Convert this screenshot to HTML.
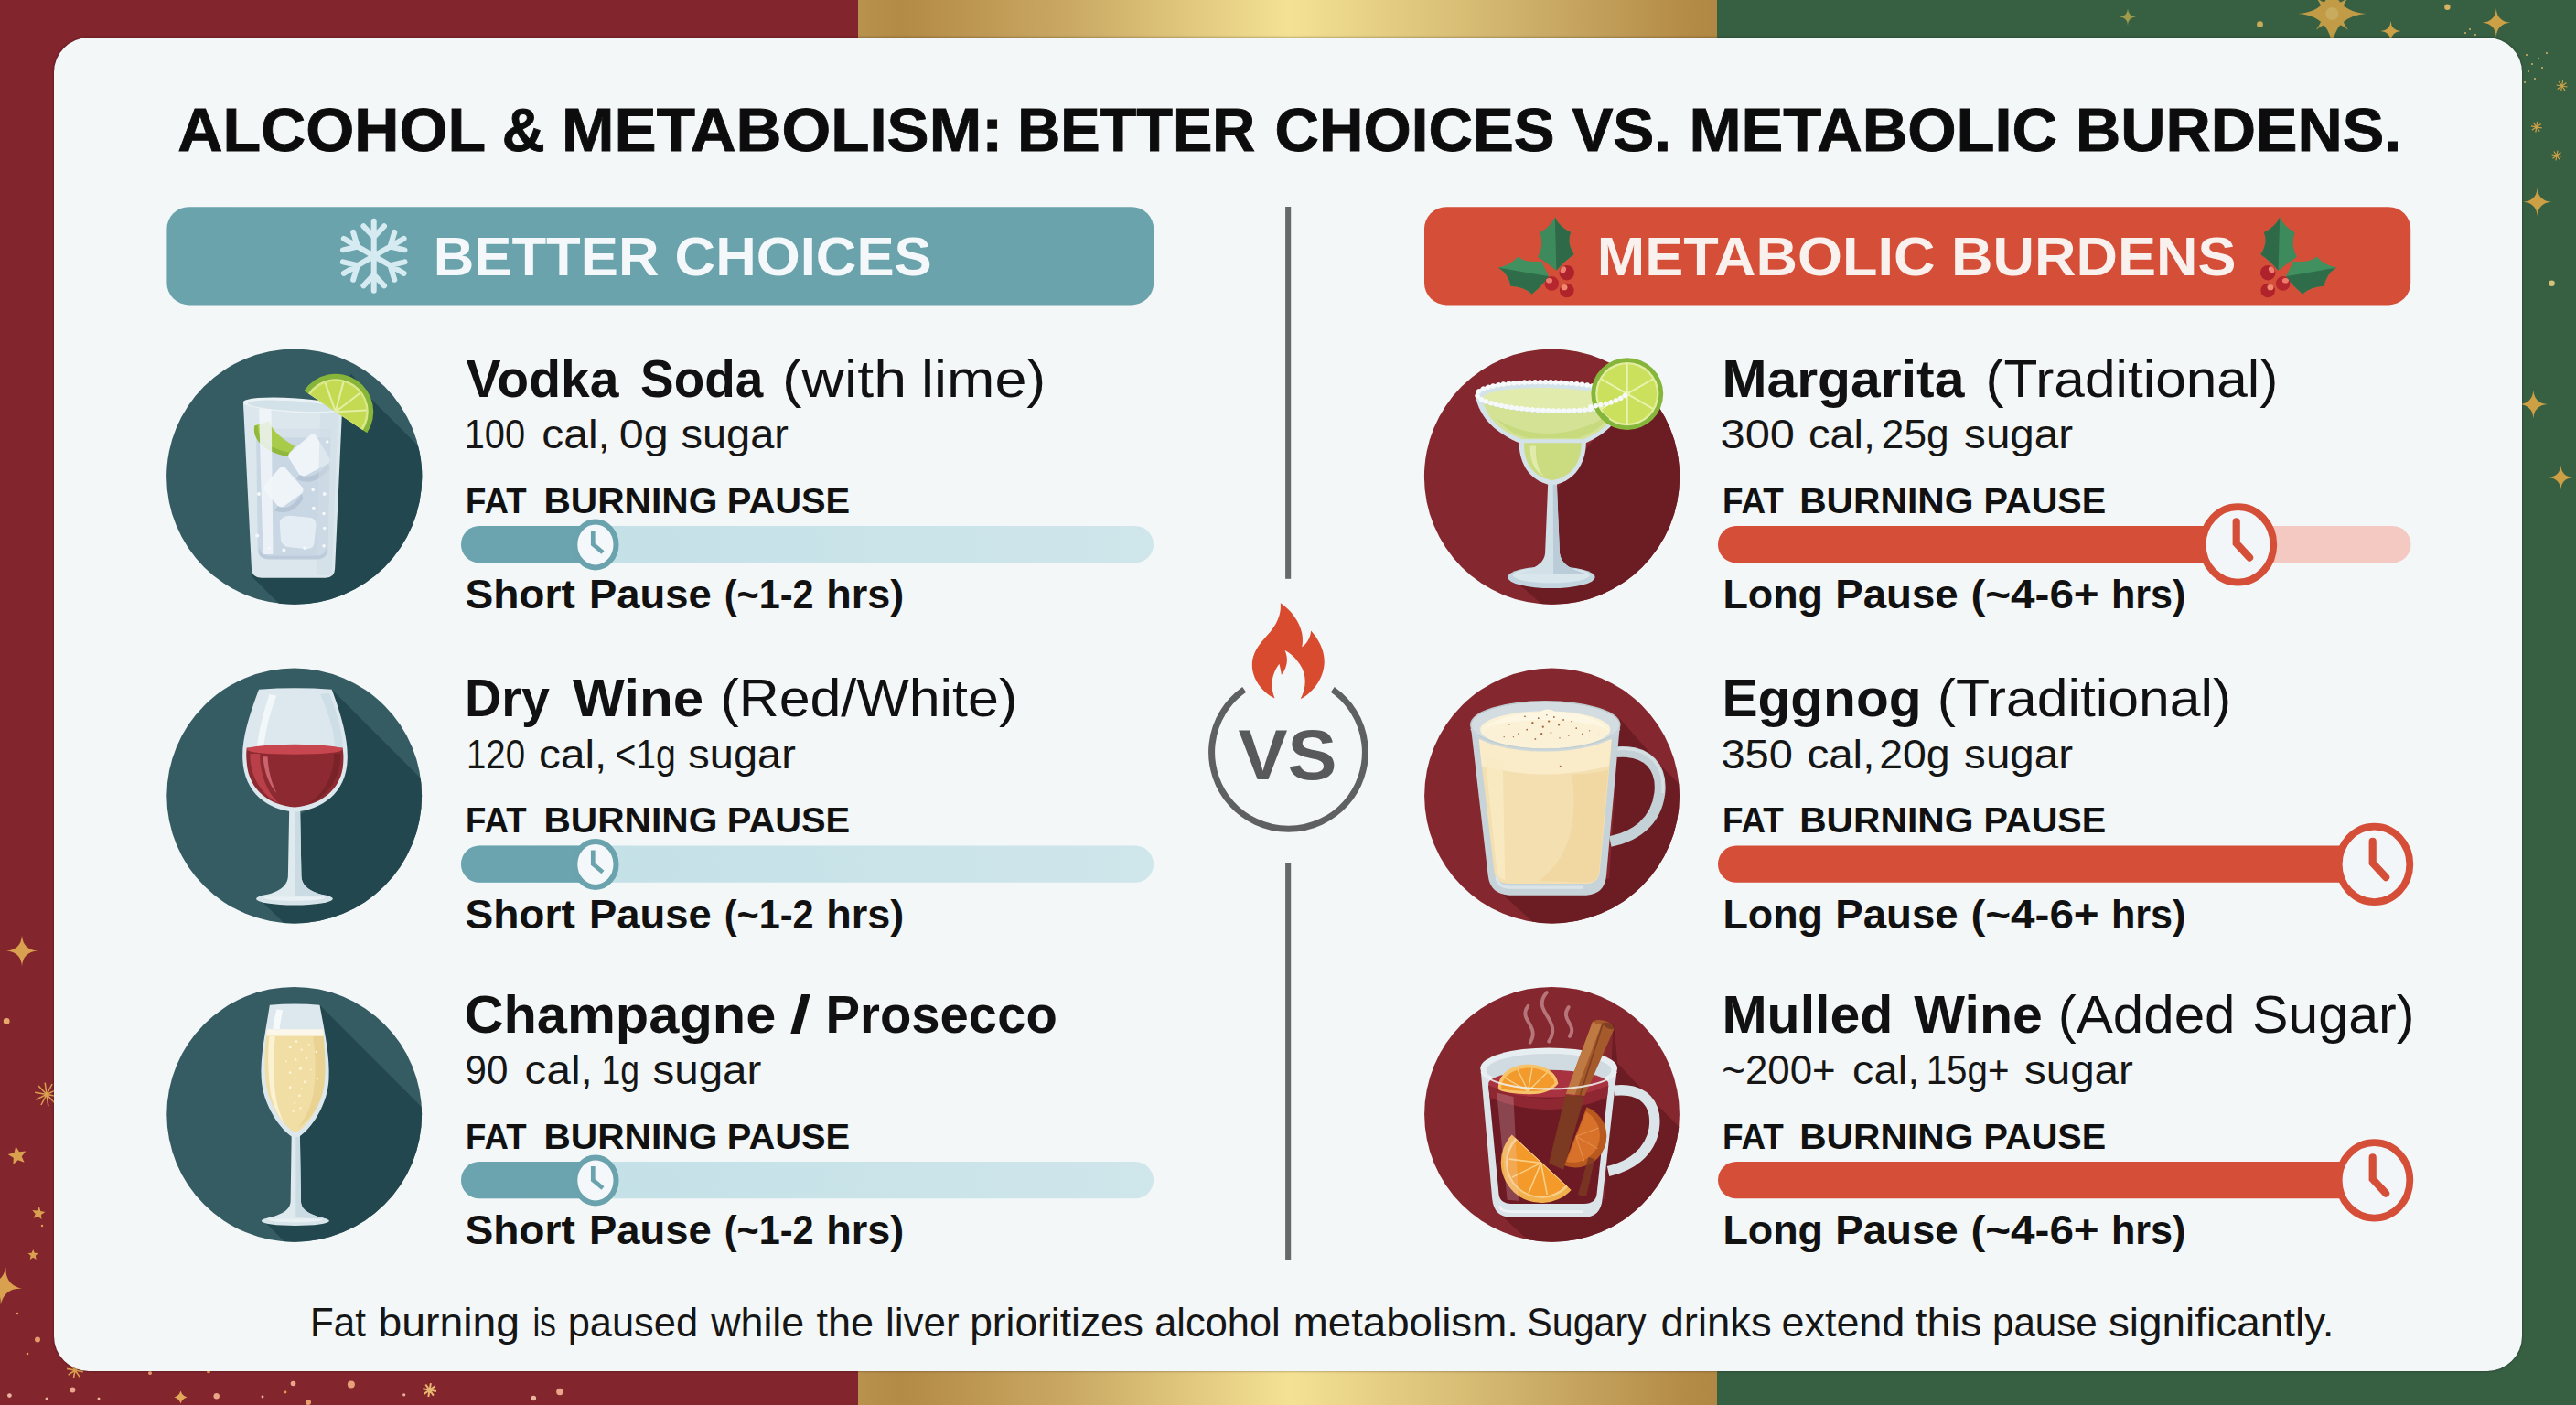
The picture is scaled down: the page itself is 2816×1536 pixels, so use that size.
<!DOCTYPE html>
<html lang="en">
<head>
<meta charset="utf-8">
<title>Alcohol &amp; Metabolism: Better Choices vs. Metabolic Burdens</title>
<style>
html,body{margin:0;padding:0;width:2816px;height:1536px;overflow:hidden;background:#83252d;font-family:"Liberation Sans",sans-serif}
.bg{position:absolute;left:0;top:0;width:2816px;height:1536px;
 background:linear-gradient(90deg,#83252d 0,#83252d 938.5px,#b9924f 938.5px,#b38a46 985px,#caa964 1170px,#f4e294 1410px,#d0b36d 1650px,#b48c48 1840px,#b08844 1877px,#376043 1877px,#376043 2816px)}
.card{position:absolute;left:59.1px;top:40.8px;width:2697.7px;height:1458.3px;border-radius:38px;background:#f3f7f8;box-shadow:0 0 2.5px rgba(20,10,10,.55)}
svg{position:absolute;left:0;top:0}
text{font-family:"Liberation Sans",sans-serif}
</style>
</head>
<body>
<div class="bg"></div>
<svg width="2816" height="1536" viewBox="0 0 2816 1536">
<g opacity="0.92"><path d="M2549.4,-22.0 Q2552.0,12.4 2586.4,15.0 Q2552.0,17.6 2549.4,52.0 Q2546.8,17.6 2512.4,15.0 Q2546.8,12.4 2549.4,-22.0Z" fill="#cda046"/><path d="M2567.1,-2.7 Q2552.9,15.0 2567.1,32.7 Q2549.4,18.5 2531.7,32.7 Q2545.9,15.0 2531.7,-2.7 Q2549.4,11.5 2567.1,-2.7Z" fill="#cda046"/><circle cx="2549.4" cy="15" r="7" fill="#d6b262"/></g>
<path d="M2613.5,23.0 Q2614.2,33.3 2624.5,34.0 Q2614.2,34.7 2613.5,45.0 Q2612.8,34.7 2602.5,34.0 Q2612.8,33.3 2613.5,23.0Z" fill="#cda046"/><path d="M2616.8,30.7 Q2614.2,34.0 2616.8,37.3 Q2613.5,34.7 2610.2,37.3 Q2612.8,34.0 2610.2,30.7 Q2613.5,33.3 2616.8,30.7Z" fill="#cda046"/>
<circle cx="2675.4" cy="7.7" r="3.2" fill="#d6b262"/>
<path d="M2728.8,9.3 Q2729.8,23.8 2744.3,24.8 Q2729.8,25.8 2728.8,40.3 Q2727.8,25.8 2713.3,24.8 Q2727.8,23.8 2728.8,9.3Z" fill="#cda046"/><path d="M2733.4,20.2 Q2729.8,24.8 2733.4,29.4 Q2728.8,25.8 2724.2,29.4 Q2727.8,24.8 2724.2,20.2 Q2728.8,23.8 2733.4,20.2Z" fill="#cda046"/>
<path d="M2326.0,9.6 Q2326.6,18.0 2335.0,18.6 Q2326.6,19.2 2326.0,27.6 Q2325.4,19.2 2317.0,18.6 Q2325.4,18.0 2326.0,9.6Z" fill="#9f9a4c"/><path d="M2328.7,15.9 Q2326.6,18.6 2328.7,21.3 Q2326.0,19.2 2323.3,21.3 Q2325.4,18.6 2323.3,15.9 Q2326.0,18.0 2328.7,15.9Z" fill="#9f9a4c"/>
<circle cx="2470.5" cy="26.7" r="3.4" fill="#c9ac5a"/>
<path d="M2800.6,94.0 L2806.5,95.0 M2800.6,94.0 L2804.0,98.9 M2800.6,94.0 L2799.6,99.9 M2800.6,94.0 L2795.7,97.4 M2800.6,94.0 L2794.7,93.0 M2800.6,94.0 L2797.2,89.1 M2800.6,94.0 L2801.6,88.1 M2800.6,94.0 L2805.5,90.6 " stroke="#cda046" stroke-width="1.2" fill="none"/>
<path d="M2772.8,138.8 L2778.7,139.8 M2772.8,138.8 L2776.2,143.7 M2772.8,138.8 L2771.8,144.7 M2772.8,138.8 L2767.9,142.2 M2772.8,138.8 L2766.9,137.8 M2772.8,138.8 L2769.4,133.9 M2772.8,138.8 L2773.8,132.9 M2772.8,138.8 L2777.7,135.4 " stroke="#cda046" stroke-width="1.2" fill="none"/>
<path d="M2795.0,170.0 L2800.4,171.0 M2795.0,170.0 L2798.2,174.5 M2795.0,170.0 L2794.0,175.4 M2795.0,170.0 L2790.5,173.2 M2795.0,170.0 L2789.6,169.0 M2795.0,170.0 L2791.8,165.5 M2795.0,170.0 L2796.0,164.6 M2795.0,170.0 L2799.5,166.8 " stroke="#cda046" stroke-width="1.2" fill="none"/>
<circle cx="2762" cy="60" r="1" fill="#d6b262"/>
<circle cx="2768" cy="70" r="1" fill="#d6b262"/>
<circle cx="2775" cy="64" r="1" fill="#d6b262"/>
<circle cx="2764" cy="78" r="1" fill="#d6b262"/>
<circle cx="2771" cy="86" r="1" fill="#d6b262"/>
<circle cx="2779" cy="74" r="1" fill="#d6b262"/>
<circle cx="2760" cy="90" r="1" fill="#d6b262"/>
<circle cx="2784" cy="58" r="1" fill="#d6b262"/>
<circle cx="2700" cy="32" r="1" fill="#d6b262"/>
<circle cx="2706" cy="38" r="1" fill="#d6b262"/>
<circle cx="2695" cy="36" r="1" fill="#d6b262"/>
<path d="M2773.7,205.3 Q2774.7,219.8 2789.2,220.8 Q2774.7,221.8 2773.7,236.3 Q2772.7,221.8 2758.2,220.8 Q2772.7,219.8 2773.7,205.3Z" fill="#cda046"/><path d="M2778.3,216.2 Q2774.7,220.8 2778.3,225.4 Q2773.7,221.8 2769.1,225.4 Q2772.7,220.8 2769.1,216.2 Q2773.7,219.8 2778.3,216.2Z" fill="#cda046"/>
<circle cx="2789.5" cy="309.7" r="3.3" fill="#d4c077"/>
<path d="M2769.4,426.5 Q2770.4,441.0 2784.9,442.0 Q2770.4,443.0 2769.4,457.5 Q2768.4,443.0 2753.9,442.0 Q2768.4,441.0 2769.4,426.5Z" fill="#cda046"/><path d="M2774.0,437.4 Q2770.4,442.0 2774.0,446.6 Q2769.4,443.0 2764.8,446.6 Q2768.4,442.0 2764.8,437.4 Q2769.4,441.0 2774.0,437.4Z" fill="#cda046"/>
<path d="M2799.3,508.5 Q2800.2,521.1 2812.8,522.0 Q2800.2,522.9 2799.3,535.5 Q2798.4,522.9 2785.8,522.0 Q2798.4,521.1 2799.3,508.5Z" fill="#cda046"/><path d="M2803.3,518.0 Q2800.2,522.0 2803.3,526.0 Q2799.3,522.9 2795.3,526.0 Q2798.4,522.0 2795.3,518.0 Q2799.3,521.1 2803.3,518.0Z" fill="#cda046"/>
<path d="M24.0,1022.4 Q25.1,1038.3 41.0,1039.4 Q25.1,1040.5 24.0,1056.4 Q22.9,1040.5 7.0,1039.4 Q22.9,1038.3 24.0,1022.4Z" fill="#d9a050"/><path d="M29.0,1034.4 Q25.1,1039.4 29.0,1044.4 Q24.0,1040.5 19.0,1044.4 Q22.9,1039.4 19.0,1034.4 Q24.0,1038.3 29.0,1034.4Z" fill="#d9a050"/>
<circle cx="7.2" cy="1116.4" r="3.4" fill="#e6a96a"/>
<path d="M51.0,1196.5 L63.8,1198.8 M51.0,1196.5 L60.0,1205.9 M51.0,1196.5 L52.8,1209.4 M51.0,1196.5 L44.9,1208.0 M51.0,1196.5 L39.3,1202.2 M51.0,1196.5 L38.2,1194.2 M51.0,1196.5 L42.0,1187.1 M51.0,1196.5 L49.2,1183.6 M51.0,1196.5 L57.1,1185.0 M51.0,1196.5 L62.7,1190.8 " stroke="#d9a050" stroke-width="1.5" fill="none"/>
<path d="M17.2,1253.2 L21.1,1259.3 L28.3,1258.6 L23.7,1264.2 L26.6,1270.8 L19.8,1268.2 L14.4,1272.9 L14.8,1265.7 L8.6,1262.0 L15.6,1260.2Z" fill="#d9a050"/>
<path d="M43.0,1319.0 L44.3,1324.0 L49.4,1325.1 L45.0,1327.9 L45.5,1333.0 L41.5,1329.7 L36.8,1331.8 L38.7,1327.0 L35.3,1323.1 L40.4,1323.4Z" fill="#d9a050"/>
<path d="M36.2,1366.0 L37.8,1369.8 L41.9,1370.1 L38.8,1372.8 L39.7,1376.9 L36.2,1374.7 L32.7,1376.9 L33.6,1372.8 L30.5,1370.1 L34.6,1369.8Z" fill="#d9a050"/>
<path d="M6.5,1385.2 Q5.3,1404.7 24.4,1408.9 Q4.9,1407.7 0.7,1426.8 Q1.9,1407.3 -17.2,1403.1 Q2.3,1404.3 6.5,1385.2Z" fill="#d9a050"/>
<circle cx="41" cy="1464.5" r="3" fill="#e59a6a"/>
<path d="M82.0,1498.0 L90.9,1499.6 M82.0,1498.0 L87.2,1505.4 M82.0,1498.0 L80.4,1506.9 M82.0,1498.0 L74.6,1503.2 M82.0,1498.0 L73.1,1496.4 M82.0,1498.0 L76.8,1490.6 M82.0,1498.0 L83.6,1489.1 M82.0,1498.0 L89.4,1492.8 " stroke="#d9a050" stroke-width="1.6" fill="none"/>
<circle cx="10.4" cy="1525.6" r="2.4" fill="#eab5a0"/>
<circle cx="79.4" cy="1519.6" r="3" fill="#eaa58a"/>
<circle cx="236.7" cy="1526.3" r="3.2" fill="#eaa58a"/>
<circle cx="320.5" cy="1512.5" r="2.8" fill="#eaa58a"/>
<circle cx="383.9" cy="1513.6" r="4" fill="#e9a07a"/>
<circle cx="337" cy="1533" r="3" fill="#e8a070"/>
<circle cx="441.7" cy="1524.8" r="1.6" fill="#eab5a0"/>
<circle cx="583.3" cy="1528.5" r="2.8" fill="#eab5a0"/>
<circle cx="612" cy="1521.5" r="3.8" fill="#eaa58a"/>
<circle cx="164" cy="1501" r="2" fill="#e8a070"/>
<circle cx="228" cy="1499" r="2.2" fill="#e0a050"/>
<circle cx="51" cy="1529" r="1.5" fill="#eab5a0"/>
<circle cx="108" cy="1529" r="1.5" fill="#eab5a0"/>
<circle cx="287" cy="1527" r="1.4" fill="#eab5a0"/>
<circle cx="312" cy="1522" r="1.4" fill="#e0a050"/>
<circle cx="19" cy="1436" r="1.2" fill="#e0a050"/>
<circle cx="30" cy="1480" r="1.3" fill="#e0a050"/>
<circle cx="46" cy="1340" r="1.2" fill="#e0a050"/>
<path d="M197.5,1520.5 Q199.0,1526.0 204.5,1527.5 Q199.0,1529.0 197.5,1534.5 Q196.0,1529.0 190.5,1527.5 Q196.0,1526.0 197.5,1520.5Z" fill="#e3a85a"/>
<path d="M469.6,1519.6 L477.0,1520.9 M469.6,1519.6 L473.9,1525.7 M469.6,1519.6 L468.3,1527.0 M469.6,1519.6 L463.5,1523.9 M469.6,1519.6 L462.2,1518.3 M469.6,1519.6 L465.3,1513.5 M469.6,1519.6 L470.9,1512.2 M469.6,1519.6 L475.7,1515.3 " stroke="#e8b870" stroke-width="2" fill="none"/>
</svg>
<div class="card"></div>
<svg width="2816" height="1536" viewBox="0 0 2816 1536">
<defs>
<linearGradient id="tealtrack" x1="0" x2="1" y1="0" y2="0"><stop offset="0.2" stop-color="#c4e1e7"/><stop offset="1" stop-color="#cfe6eb"/></linearGradient>
</defs>
<text y="165.0" font-size="67.4" font-weight="700" fill="#0c0c0c" stroke="#0c0c0c" stroke-width="0.9"><tspan x="194.3" textLength="335.5" lengthAdjust="spacingAndGlyphs">ALCOHOL</tspan> <tspan x="548.7" textLength="46.9" lengthAdjust="spacingAndGlyphs">&amp;</tspan> <tspan x="614.1" textLength="482.1" lengthAdjust="spacingAndGlyphs">METABOLISM:</tspan> <tspan x="1112.2" textLength="260.0" lengthAdjust="spacingAndGlyphs">BETTER</tspan> <tspan x="1393.6" textLength="305.9" lengthAdjust="spacingAndGlyphs">CHOICES</tspan> <tspan x="1718.4" textLength="108.7" lengthAdjust="spacingAndGlyphs">VS.</tspan> <tspan x="1846.5" textLength="402.5" lengthAdjust="spacingAndGlyphs">METABOLIC</tspan> <tspan x="2269.0" textLength="356.2" lengthAdjust="spacingAndGlyphs">BURDENS.</tspan></text>
<rect x="182.4" y="226.2" width="1078.8" height="107.2" rx="24" fill="#6aa3ac"/>
<rect x="1557" y="226.2" width="1078.2" height="107.2" rx="24" fill="#d54e38"/>
<!-- snowflake -->
<path d="M408.7,279.8 L408.7,241.8 M408.7,259.3 L397.4,247.2 M408.7,259.3 L420.0,247.2 M408.7,279.8 L441.6,260.8 M426.5,269.6 L431.3,253.8 M426.5,269.6 L442.5,273.3 M408.7,279.8 L441.6,298.8 M426.5,290.1 L442.5,286.3 M426.5,290.1 L431.3,305.8 M408.7,279.8 L408.7,317.8 M408.7,300.3 L420.0,312.4 M408.7,300.3 L397.4,312.4 M408.7,279.8 L375.8,298.8 M390.9,290.1 L386.1,305.8 M390.9,290.1 L374.9,286.3 M408.7,279.8 L375.8,260.8 M390.9,269.6 L374.9,273.3 M390.9,269.6 L386.1,253.8" fill="none" stroke="#d6ebf1" stroke-width="6" stroke-linecap="round"/>
<!-- holly -->
<g transform="translate(1620 225) scale(0.078278)">
 <path d="M1020,160 Q1085,300 1240,370 Q1180,520 1285,680 Q1150,770 1040,905 Q900,790 780,712 Q870,560 810,372 Q950,300 1020,160 Z" fill="#3d8a5d"/>
 <path d="M1020,160 Q1085,300 1240,370 Q1180,520 1285,680 Q1150,770 1040,905 Z" fill="#2f6a48"/>
 <path d="M230,862 Q400,830 500,712 Q620,800 830,772 Q880,880 935,985 Q860,1100 700,1232 Q590,1130 400,1122 Q380,960 230,862 Z" fill="#41905f"/>
 <path d="M230,862 Q600,930 935,985 Q860,1100 700,1232 Q590,1130 400,1122 Q380,960 230,862 Z" fill="#2f6d4a"/>
 <circle cx="1185" cy="935" r="106" fill="#ae222b"/>
 <circle cx="975" cy="1085" r="100" fill="#b5262e"/>
 <circle cx="1185" cy="1182" r="100" fill="#b0232b"/>
 <ellipse cx="1135" cy="895" rx="38" ry="50" transform="rotate(25 1135 895)" fill="#ef7f72"/>
 <ellipse cx="940" cy="1045" rx="45" ry="36" fill="#ee7a6c"/>
 <ellipse cx="1150" cy="1140" rx="44" ry="40" fill="#f08a6e"/>
</g>
<g transform="translate(4192 0) scale(-1 1) translate(1620 225) scale(0.078278)">
 <path d="M1020,160 Q1085,300 1240,370 Q1180,520 1285,680 Q1150,770 1040,905 Q900,790 780,712 Q870,560 810,372 Q950,300 1020,160 Z" fill="#3d8a5d"/>
 <path d="M1020,160 Q1085,300 1240,370 Q1180,520 1285,680 Q1150,770 1040,905 Z" fill="#2f6a48"/>
 <path d="M230,862 Q400,830 500,712 Q620,800 830,772 Q880,880 935,985 Q860,1100 700,1232 Q590,1130 400,1122 Q380,960 230,862 Z" fill="#41905f"/>
 <path d="M230,862 Q600,930 935,985 Q860,1100 700,1232 Q590,1130 400,1122 Q380,960 230,862 Z" fill="#2f6d4a"/>
 <circle cx="1185" cy="935" r="106" fill="#ae222b"/>
 <circle cx="975" cy="1085" r="100" fill="#b5262e"/>
 <circle cx="1185" cy="1182" r="100" fill="#b0232b"/>
 <ellipse cx="1135" cy="895" rx="38" ry="50" transform="rotate(25 1135 895)" fill="#ef7f72"/>
 <ellipse cx="940" cy="1045" rx="45" ry="36" fill="#ee7a6c"/>
 <ellipse cx="1150" cy="1140" rx="44" ry="40" fill="#f08a6e"/>
</g>
<text x="473.7" y="301.0" font-size="59.4" font-weight="700" fill="#f4f8fa" textLength="545.0" lengthAdjust="spacingAndGlyphs">BETTER CHOICES</text>
<text x="1745.7" y="301.0" font-size="59.4" font-weight="700" fill="#f9f1ee" textLength="698.8" lengthAdjust="spacingAndGlyphs">METABOLIC BURDENS</text>
<rect x="1405.1" y="226" width="6.1" height="406.8" fill="#676968"/>
<rect x="1405.1" y="943.3" width="6.1" height="434.3" fill="#676968"/>
<!-- VS badge -->
<path d="M1360.2,753.8 A83.9,83.9 0 1 0 1456.8,753.8" fill="none" stroke="#5f6062" stroke-width="7" stroke-linecap="butt"/>
<text x="1353.5" y="851.5" font-size="78" font-weight="700" fill="#58595b" textLength="108" lengthAdjust="spacingAndGlyphs">VS</text>
<g transform="translate(1348 645) scale(0.092524)">
 <path d="M560,155 C680,230 790,380 815,520 C825,590 822,640 812,672 C870,640 915,560 920,480 C1000,570 1080,700 1078,850 C1075,1030 960,1200 795,1290 C870,1150 870,1000 790,880 C740,800 680,750 612,712 C650,800 650,900 572,1002 C565,960 555,910 545,872 C480,960 420,1100 492,1282 C330,1200 222,1040 225,880 C230,700 360,590 450,480 C530,380 570,270 560,155 Z" fill="#d94b2f"/>
</g>
<text y="433.5" font-size="57" font-weight="700" fill="#111"><tspan x="509.5" textLength="167.0" lengthAdjust="spacingAndGlyphs">Vodka</tspan> <tspan x="700.1" textLength="134.2" lengthAdjust="spacingAndGlyphs">Soda</tspan></text>
<text y="433.5" font-size="57" font-weight="400" fill="#111"><tspan x="854.9" textLength="136.1" lengthAdjust="spacingAndGlyphs">(with</tspan> <tspan x="1007.1" textLength="136.2" lengthAdjust="spacingAndGlyphs">lime)</tspan></text>
<text y="490.0" font-size="45" font-weight="400" fill="#161616"><tspan x="507.7" textLength="66.4" lengthAdjust="spacingAndGlyphs">100</tspan> <tspan x="592.3" textLength="74.6" lengthAdjust="spacingAndGlyphs">cal,</tspan> <tspan x="676.7" textLength="53.9" lengthAdjust="spacingAndGlyphs">0g</tspan> <tspan x="744.5" textLength="117.5" lengthAdjust="spacingAndGlyphs">sugar</tspan></text>
<text y="560.8" font-size="39" font-weight="700" fill="#111"><tspan x="509.1" textLength="66.4" lengthAdjust="spacingAndGlyphs">FAT</tspan> <tspan x="594.4" textLength="189.9" lengthAdjust="spacingAndGlyphs">BURNING</tspan> <tspan x="794.8" textLength="134.4" lengthAdjust="spacingAndGlyphs">PAUSE</tspan></text>
<rect x="504" y="575.0" width="757" height="40.3" rx="20.1" fill="url(#tealtrack)"/>
<rect x="504" y="575.0" width="160" height="40.3" rx="20.1" fill="#6ba4ae"/>
<ellipse cx="650.9" cy="595.4" rx="22.6" ry="25" fill="#f4f8fa" stroke="#6aa3ad" stroke-width="6"/>
<path d="M648.3,580.1 V595.1 L659,604.0" fill="none" stroke="#6aa3ad" stroke-width="4.7" stroke-linejoin="miter"/>
<text y="665.0" font-size="43.5" font-weight="700" fill="#111"><tspan x="508.4" textLength="120.5" lengthAdjust="spacingAndGlyphs">Short</tspan> <tspan x="644.0" textLength="133.8" lengthAdjust="spacingAndGlyphs">Pause</tspan> <tspan x="791.8" textLength="97.7" lengthAdjust="spacingAndGlyphs">(~1-2</tspan> <tspan x="903.3" textLength="85.0" lengthAdjust="spacingAndGlyphs">hrs)</tspan></text>
<text y="433.5" font-size="57" font-weight="700" fill="#111"><tspan x="1882.4" textLength="265.1" lengthAdjust="spacingAndGlyphs">Margarita</tspan></text>
<text y="433.5" font-size="57" font-weight="400" fill="#111"><tspan x="2170.5" textLength="319.9" lengthAdjust="spacingAndGlyphs">(Traditional)</tspan></text>
<text y="490.0" font-size="45" font-weight="400" fill="#161616"><tspan x="1880.6" textLength="81.4" lengthAdjust="spacingAndGlyphs">300</tspan> <tspan x="1977.0" textLength="73.0" lengthAdjust="spacingAndGlyphs">cal,</tspan> <tspan x="2056.8" textLength="73.8" lengthAdjust="spacingAndGlyphs">25g</tspan> <tspan x="2147.1" textLength="119.0" lengthAdjust="spacingAndGlyphs">sugar</tspan></text>
<text y="560.8" font-size="39" font-weight="700" fill="#111"><tspan x="1882.9" textLength="66.9" lengthAdjust="spacingAndGlyphs">FAT</tspan> <tspan x="1967.2" textLength="190.2" lengthAdjust="spacingAndGlyphs">BURNING</tspan> <tspan x="2168.6" textLength="133.5" lengthAdjust="spacingAndGlyphs">PAUSE</tspan></text>
<rect x="1878" y="575.0" width="757.5" height="40.3" rx="20.1" fill="#f3c9c2"/>
<rect x="1878" y="575.0" width="580" height="40.3" rx="20.1" fill="#d54e38"/>
<ellipse cx="2446.5" cy="595.4" rx="38.8" ry="41.2" fill="#f3f6f8" stroke="#d54e38" stroke-width="7.8"/>
<path d="M2444.7,570.4 V593.9 L2459.1,609.6" fill="none" stroke="#d54e38" stroke-width="8.2" stroke-linecap="round" stroke-linejoin="miter"/>
<text y="665.0" font-size="43.5" font-weight="700" fill="#111"><tspan x="1883.4" textLength="109.6" lengthAdjust="spacingAndGlyphs">Long</tspan> <tspan x="2006.3" textLength="134.4" lengthAdjust="spacingAndGlyphs">Pause</tspan> <tspan x="2154.4" textLength="140.3" lengthAdjust="spacingAndGlyphs">(~4-6+</tspan> <tspan x="2307.9" textLength="81.6" lengthAdjust="spacingAndGlyphs">hrs)</tspan></text>
<text y="783.0" font-size="57" font-weight="700" fill="#111"><tspan x="508.1" textLength="92.7" lengthAdjust="spacingAndGlyphs">Dry</tspan> <tspan x="626.0" textLength="143.1" lengthAdjust="spacingAndGlyphs">Wine</tspan></text>
<text y="783.0" font-size="57" font-weight="400" fill="#111"><tspan x="787.4" textLength="324.8" lengthAdjust="spacingAndGlyphs">(Red/White)</tspan></text>
<text y="839.5" font-size="45" font-weight="400" fill="#161616"><tspan x="510.0" textLength="64.0" lengthAdjust="spacingAndGlyphs">120</tspan> <tspan x="589.1" textLength="74.1" lengthAdjust="spacingAndGlyphs">cal,</tspan> <tspan x="672.4" textLength="66.5" lengthAdjust="spacingAndGlyphs">&lt;1g</tspan> <tspan x="752.3" textLength="117.5" lengthAdjust="spacingAndGlyphs">sugar</tspan></text>
<text y="910.3" font-size="39" font-weight="700" fill="#111"><tspan x="509.1" textLength="66.4" lengthAdjust="spacingAndGlyphs">FAT</tspan> <tspan x="594.4" textLength="189.9" lengthAdjust="spacingAndGlyphs">BURNING</tspan> <tspan x="794.8" textLength="134.4" lengthAdjust="spacingAndGlyphs">PAUSE</tspan></text>
<rect x="504" y="924.5" width="757" height="40.3" rx="20.1" fill="url(#tealtrack)"/>
<rect x="504" y="924.5" width="160" height="40.3" rx="20.1" fill="#6ba4ae"/>
<ellipse cx="650.9" cy="944.9" rx="22.6" ry="25" fill="#f4f8fa" stroke="#6aa3ad" stroke-width="6"/>
<path d="M648.3,929.6 V944.6 L659,953.5" fill="none" stroke="#6aa3ad" stroke-width="4.7" stroke-linejoin="miter"/>
<text y="1014.5" font-size="43.5" font-weight="700" fill="#111"><tspan x="508.4" textLength="120.5" lengthAdjust="spacingAndGlyphs">Short</tspan> <tspan x="644.0" textLength="133.8" lengthAdjust="spacingAndGlyphs">Pause</tspan> <tspan x="791.8" textLength="97.7" lengthAdjust="spacingAndGlyphs">(~1-2</tspan> <tspan x="903.3" textLength="85.0" lengthAdjust="spacingAndGlyphs">hrs)</tspan></text>
<text y="783.0" font-size="57" font-weight="700" fill="#111"><tspan x="1882.4" textLength="218.1" lengthAdjust="spacingAndGlyphs">Eggnog</tspan></text>
<text y="783.0" font-size="57" font-weight="400" fill="#111"><tspan x="2117.7" textLength="321.5" lengthAdjust="spacingAndGlyphs">(Traditional)</tspan></text>
<text y="839.5" font-size="45" font-weight="400" fill="#161616"><tspan x="1881.4" textLength="78.5" lengthAdjust="spacingAndGlyphs">350</tspan> <tspan x="1975.4" textLength="74.0" lengthAdjust="spacingAndGlyphs">cal,</tspan> <tspan x="2054.2" textLength="77.5" lengthAdjust="spacingAndGlyphs">20g</tspan> <tspan x="2147.1" textLength="119.0" lengthAdjust="spacingAndGlyphs">sugar</tspan></text>
<text y="910.3" font-size="39" font-weight="700" fill="#111"><tspan x="1882.9" textLength="66.9" lengthAdjust="spacingAndGlyphs">FAT</tspan> <tspan x="1967.2" textLength="190.2" lengthAdjust="spacingAndGlyphs">BURNING</tspan> <tspan x="2168.6" textLength="133.5" lengthAdjust="spacingAndGlyphs">PAUSE</tspan></text>
<rect x="1878" y="924.5" width="730" height="40.3" rx="20.1" fill="#d54e38"/>
<ellipse cx="2595.5" cy="944.9" rx="38.8" ry="41.2" fill="#f3f6f8" stroke="#d54e38" stroke-width="7.8"/>
<path d="M2593.7,919.9 V943.4 L2608.1,959.1" fill="none" stroke="#d54e38" stroke-width="8.2" stroke-linecap="round" stroke-linejoin="miter"/>
<text y="1014.5" font-size="43.5" font-weight="700" fill="#111"><tspan x="1883.4" textLength="109.6" lengthAdjust="spacingAndGlyphs">Long</tspan> <tspan x="2006.3" textLength="134.4" lengthAdjust="spacingAndGlyphs">Pause</tspan> <tspan x="2154.4" textLength="140.3" lengthAdjust="spacingAndGlyphs">(~4-6+</tspan> <tspan x="2307.9" textLength="81.6" lengthAdjust="spacingAndGlyphs">hrs)</tspan></text>
<text y="1128.5" font-size="57" font-weight="700" fill="#111"><tspan x="507.4" textLength="340.9" lengthAdjust="spacingAndGlyphs">Champagne</tspan> <tspan x="863.5" textLength="23.1" lengthAdjust="spacingAndGlyphs">/</tspan> <tspan x="902.5" textLength="253.3" lengthAdjust="spacingAndGlyphs">Prosecco</tspan></text>
<text y="1185.0" font-size="45" font-weight="400" fill="#161616"><tspan x="508.5" textLength="46.9" lengthAdjust="spacingAndGlyphs">90</tspan> <tspan x="573.6" textLength="74.1" lengthAdjust="spacingAndGlyphs">cal,</tspan> <tspan x="657.6" textLength="41.5" lengthAdjust="spacingAndGlyphs">1g</tspan> <tspan x="713.4" textLength="119.0" lengthAdjust="spacingAndGlyphs">sugar</tspan></text>
<text y="1255.8" font-size="39" font-weight="700" fill="#111"><tspan x="509.1" textLength="66.4" lengthAdjust="spacingAndGlyphs">FAT</tspan> <tspan x="594.4" textLength="189.9" lengthAdjust="spacingAndGlyphs">BURNING</tspan> <tspan x="794.8" textLength="134.4" lengthAdjust="spacingAndGlyphs">PAUSE</tspan></text>
<rect x="504" y="1270.0" width="757" height="40.3" rx="20.1" fill="url(#tealtrack)"/>
<rect x="504" y="1270.0" width="160" height="40.3" rx="20.1" fill="#6ba4ae"/>
<ellipse cx="650.9" cy="1290.4" rx="22.6" ry="25" fill="#f4f8fa" stroke="#6aa3ad" stroke-width="6"/>
<path d="M648.3,1275.1 V1290.1 L659,1299.0" fill="none" stroke="#6aa3ad" stroke-width="4.7" stroke-linejoin="miter"/>
<text y="1360.0" font-size="43.5" font-weight="700" fill="#111"><tspan x="508.4" textLength="120.5" lengthAdjust="spacingAndGlyphs">Short</tspan> <tspan x="644.0" textLength="133.8" lengthAdjust="spacingAndGlyphs">Pause</tspan> <tspan x="791.8" textLength="97.7" lengthAdjust="spacingAndGlyphs">(~1-2</tspan> <tspan x="903.3" textLength="85.0" lengthAdjust="spacingAndGlyphs">hrs)</tspan></text>
<text y="1128.5" font-size="57" font-weight="700" fill="#111"><tspan x="1882.4" textLength="187.0" lengthAdjust="spacingAndGlyphs">Mulled</tspan> <tspan x="2092.3" textLength="140.6" lengthAdjust="spacingAndGlyphs">Wine</tspan></text>
<text y="1128.5" font-size="57" font-weight="400" fill="#111"><tspan x="2249.7" textLength="193.8" lengthAdjust="spacingAndGlyphs">(Added</tspan> <tspan x="2461.9" textLength="177.6" lengthAdjust="spacingAndGlyphs">Sugar)</tspan></text>
<text y="1185.0" font-size="45" font-weight="400" fill="#161616"><tspan x="1882.3" textLength="124.3" lengthAdjust="spacingAndGlyphs">~200+</tspan> <tspan x="2025.1" textLength="73.1" lengthAdjust="spacingAndGlyphs">cal,</tspan> <tspan x="2105.7" textLength="90.8" lengthAdjust="spacingAndGlyphs">15g+</tspan> <tspan x="2212.9" textLength="119.0" lengthAdjust="spacingAndGlyphs">sugar</tspan></text>
<text y="1255.8" font-size="39" font-weight="700" fill="#111"><tspan x="1882.9" textLength="66.9" lengthAdjust="spacingAndGlyphs">FAT</tspan> <tspan x="1967.2" textLength="190.2" lengthAdjust="spacingAndGlyphs">BURNING</tspan> <tspan x="2168.6" textLength="133.5" lengthAdjust="spacingAndGlyphs">PAUSE</tspan></text>
<rect x="1878" y="1270.0" width="730" height="40.3" rx="20.1" fill="#d54e38"/>
<ellipse cx="2595.5" cy="1290.4" rx="38.8" ry="41.2" fill="#f3f6f8" stroke="#d54e38" stroke-width="7.8"/>
<path d="M2593.7,1265.4 V1288.9 L2608.1,1304.6" fill="none" stroke="#d54e38" stroke-width="8.2" stroke-linecap="round" stroke-linejoin="miter"/>
<text y="1360.0" font-size="43.5" font-weight="700" fill="#111"><tspan x="1883.4" textLength="109.6" lengthAdjust="spacingAndGlyphs">Long</tspan> <tspan x="2006.3" textLength="134.4" lengthAdjust="spacingAndGlyphs">Pause</tspan> <tspan x="2154.4" textLength="140.3" lengthAdjust="spacingAndGlyphs">(~4-6+</tspan> <tspan x="2307.9" textLength="81.6" lengthAdjust="spacingAndGlyphs">hrs)</tspan></text>
<!-- Vodka soda -->
<g>
<clipPath id="c1"><circle cx="321.7" cy="521.2" r="139.6"/></clipPath>
<circle cx="321.7" cy="521.2" r="139.6" fill="#365c63"/>
<g transform="translate(160 360) scale(0.22776)" clip-path="none">
 <g clip-path="url(#c1z)">
 <clipPath id="c1z"><circle cx="710" cy="708" r="613"/></clipPath>
 <path d="M985,215 L1075,330 L2100,1355 L1500,2180 L505,1185 L505,600 Z" fill="#23474e"/>
 </g>
 <!-- glass -->
 <path d="M465,352 C465,318 940,348 940,382 L905,1150 Q903,1192 860,1193 L552,1193 Q507,1192 505,1150 Z" fill="#dbe7ed"/>
 <ellipse cx="702" cy="364" rx="238" ry="34" transform="rotate(3.5 702 364)" fill="#eaf2f5"/>
 <ellipse cx="702" cy="368" rx="215" ry="24" transform="rotate(3.5 702 368)" fill="#d3e1e8"/>
 <!-- liquid -->
 <path d="M527,480 L885,480 L872,1060 Q870,1100 830,1100 L575,1100 Q537,1100 535,1060 Z" fill="#c9d6e3"/>
 <path d="M527,480 L885,480 L884,520 L528,520 Z" fill="#d6e1ea"/>
 <!-- lime in glass -->
 <path d="M520,462 C505,520 560,590 680,610 L712,560 C640,520 600,480 590,440 Z" fill="#a9cb4a"/>
 <path d="M520,462 C505,520 560,590 680,610 L690,592 C590,575 530,520 535,462 Z" fill="#8fb83d"/>
 <!-- ice cubes -->
 <g fill="#eef4f8">
  <path d="M690,590 L790,505 Q805,498 815,512 L880,620 Q885,635 872,645 L760,705 Q745,710 735,698 L682,615 Q678,600 690,590 Z"/>
  <path d="M570,745 L640,665 Q655,655 668,665 L750,760 Q758,775 746,788 L660,850 Q645,858 632,848 L568,775 Q560,760 570,745 Z"/>
  <path d="M640,925 Q650,895 690,895 L790,905 Q815,912 815,940 L805,1030 Q800,1055 770,1055 L680,1045 Q650,1040 645,1010 Z" fill="#e4edf3"/>
 </g>
 <path d="M735,698 Q800,730 872,645 L880,665 Q810,760 720,720 Z" fill="#b7c6d6"/>
 <path d="M632,848 Q690,880 746,788 L752,815 Q700,900 615,872 Z" fill="#b7c6d6"/>
 <!-- highlights -->
 <path d="M540,380 L600,384 L608,1080 L560,1080 Z" fill="#f1f6f9" opacity="0.85"/>
 <path d="M835,400 L920,404 L890,1180 L815,1180 Z" fill="#cfdde6" opacity="0.55"/>
 <g fill="#f4f8fb">
  <circle cx="868" cy="540" r="8"/><circle cx="800" cy="770" r="8"/><circle cx="855" cy="790" r="9"/><circle cx="852" cy="885" r="8"/>
  <circle cx="803" cy="860" r="9"/><circle cx="855" cy="955" r="8"/><circle cx="540" cy="790" r="9"/><circle cx="532" cy="990" r="9"/>
  <circle cx="660" cy="1060" r="9"/><circle cx="760" cy="1050" r="8"/><circle cx="590" cy="1050" r="7"/><circle cx="852" cy="1040" r="8"/>
 </g>
 <path d="M540,1040 Q545,1085 590,1088 L820,1088 Q860,1085 868,1040 L866,1075 Q860,1102 825,1104 L585,1104 Q545,1102 540,1075 Z" fill="#b9c8d8" opacity="0.8"/>
 <!-- lime wedge on rim (front) -->
 <g transform="translate(908 396) rotate(33.8)">
  <path d="M-182,0 A182,182 0 0 1 182,0 Z" fill="#86b53a"/>
  <path d="M-158,0 A158,158 0 0 1 158,0 Z" fill="#dbe88a"/>
  <path d="M-146,-2 A146,146 0 0 1 146,-2 Z" fill="#c3da52"/>
  <path d="M0,0 L-118,-88 M0,0 L-48,-140 M0,0 L48,-140 M0,0 L118,-88" stroke="#e4efa6" stroke-width="9" fill="none"/>
 </g>
</g>
</g>
<!-- Dry wine -->
<g>
<circle cx="321.7" cy="870" r="139.4" fill="#365c63"/>
<g transform="translate(160 710) scale(0.22776)">
 <clipPath id="c2z"><circle cx="710" cy="702.5" r="612"/></clipPath>
 <g clip-path="url(#c2z)">
  <path d="M890,192 L2000,1302 L1600,2230 L560,1215 L700,1150 L740,790 L900,700 Z" fill="#23474e"/>
 </g>
 <!-- base + stem -->
 <ellipse cx="711" cy="1197" rx="184" ry="30" fill="#d7e4ea"/>
 <ellipse cx="711" cy="1190" rx="150" ry="17" fill="#e9f1f4"/>
 <path d="M686,760 L680,1090 C676,1150 610,1170 545,1188 L880,1188 C812,1170 748,1150 744,1090 L738,760 Z" fill="#dfeaef"/>
 <path d="M712,770 L712,1180 L880,1188 C812,1170 748,1150 744,1090 L738,770 Z" fill="#cbdbe3"/>
 <!-- bowl -->
 <path d="M540,192 C500,300 458,420 462,525 C468,690 585,772 712,780 C840,772 962,690 965,525 C968,420 930,300 890,192 Q715,180 540,192 Z" fill="#dce8ee"/>
 <path d="M590,215 C560,310 530,420 530,500 L560,500 C565,420 590,310 625,222 Z" fill="#f4f8fa" opacity="0.9"/>
 <path d="M835,215 C885,330 912,430 905,520 L945,520 C950,420 915,300 878,210 Z" fill="#cbdbe4" opacity="0.8"/>
 <!-- wine -->
 <path d="M482,472 C478,500 480,520 482,545 C492,675 592,748 712,757 C832,748 938,675 945,545 C947,520 946,500 942,472 Z" fill="#8d2a31"/>
 <ellipse cx="712" cy="480" rx="231" ry="24" fill="#c8464f"/>
 <path d="M498,500 C495,600 550,700 640,740 C580,690 545,600 545,500 Z" fill="#b94048"/>
 <path d="M560,515 C565,590 590,650 625,690 C598,630 585,580 582,515 Z" fill="#d9727a" opacity="0.8"/>
 <path d="M900,500 C905,600 850,700 770,745 C880,700 935,610 932,500 Z" fill="#742026" opacity="0.8"/>
</g>
</g>
<!-- Champagne -->
<g>
<circle cx="321.7" cy="1218.3" r="139.4" fill="#365c63"/>
<g transform="translate(160 1060) scale(0.22776)">
 <clipPath id="c3z"><circle cx="710" cy="695" r="612"/></clipPath>
 <g clip-path="url(#c3z)">
  <path d="M830,168 L2000,1338 L1600,2240 L575,1218 L705,1160 L735,800 L870,600 Z" fill="#23474e"/>
 </g>
 <ellipse cx="715" cy="1206" rx="163" ry="23" fill="#d7e4ea"/>
 <ellipse cx="715" cy="1200" rx="130" ry="13" fill="#e9f1f4"/>
 <path d="M697,780 L692,1115 C688,1160 640,1180 560,1198 L872,1198 C795,1180 745,1160 742,1115 L737,780 Z" fill="#dfeaef"/>
 <path d="M717,790 L717,1190 L872,1198 C795,1180 745,1160 742,1115 L737,790 Z" fill="#cbdbe3"/>
 <path d="M592,170 C572,300 545,420 552,525 C560,650 640,765 700,803 L732,803 C792,765 870,650 876,525 C882,420 856,300 832,170 Q712,160 592,170 Z" fill="#dce8ee"/>
 <!-- liquid -->
 <path d="M578,292 C566,400 568,470 572,525 C580,640 650,742 705,778 L727,778 C782,742 850,640 856,525 C860,470 858,400 848,292 Z" fill="#f1dea4"/>
 <path d="M578,286 L848,286 L851,318 L576,318 Z" fill="#fbf7ea"/>
 <path d="M800,320 C815,420 815,520 800,600 C790,660 760,720 727,760 C790,720 850,640 856,525 C860,470 858,400 850,320 Z" fill="#e6cd8c" opacity="0.75"/>
 <path d="M590,320 C580,420 585,520 598,600 C610,650 630,700 660,735 C640,690 625,640 620,600 C608,520 610,420 618,320 Z" fill="#fbf4d8" opacity="0.9"/>
 <path d="M625,190 C615,230 610,260 607,285 L640,285 C642,260 648,230 655,195 Z" fill="#f6fafb"/>
 <g fill="#fbf5d6">
  <circle cx="720" cy="345" r="6"/><circle cx="690" cy="372" r="7"/><circle cx="745" cy="385" r="5"/><circle cx="716" cy="432" r="6"/>
  <circle cx="770" cy="425" r="5"/><circle cx="740" cy="475" r="7"/><circle cx="690" cy="495" r="6"/><circle cx="760" cy="540" r="6"/>
  <circle cx="715" cy="520" r="5"/><circle cx="815" cy="395" r="5"/><circle cx="820" cy="525" r="5"/><circle cx="690" cy="565" r="6"/>
  <circle cx="735" cy="605" r="6"/><circle cx="712" cy="640" r="5"/><circle cx="740" cy="665" r="5"/><circle cx="705" cy="680" r="5"/>
  <circle cx="780" cy="360" r="4"/><circle cx="672" cy="440" r="4"/><circle cx="790" cy="480" r="4"/><circle cx="745" cy="570" r="4"/>
 </g>
</g>
</g>
<!-- Margarita -->
<g>
<circle cx="1696.5" cy="521.2" r="139.6" fill="#85272e"/>
<g transform="translate(1536 360) scale(0.22776)">
 <clipPath id="c4z"><circle cx="705" cy="708" r="613"/></clipPath>
 <g clip-path="url(#c4z)">
  <path d="M1060,140 L2200,1280 L1700,2230 L520,1200 L700,1140 L735,760 L880,560 L1050,340 Z" fill="#6c1c23"/>
 </g>
 <!-- base -->
 <ellipse cx="702" cy="1190" rx="210" ry="53" fill="#c3d5df"/>
 <ellipse cx="702" cy="1180" rx="185" ry="38" fill="#d9e6ec"/>
 <path d="M686,735 L672,1075 C668,1125 620,1150 540,1172 L865,1172 C790,1150 748,1125 742,1075 L728,735 Z" fill="#d2e0e8"/>
 <path d="M710,745 L712,1172 L865,1172 C790,1150 748,1125 742,1075 L728,745 Z" fill="#b9ccd8"/>
 <!-- lower bulb -->
 <path d="M548,520 C538,640 600,735 706,748 C812,735 876,640 868,520 Z" fill="#d4e2e9"/>
 <path d="M572,535 C565,640 615,712 706,724 C797,712 850,640 846,535 Z" fill="#cbdc80"/>
 <path d="M600,560 C598,630 620,680 665,705 C635,670 625,620 628,560 Z" fill="#e3edb0" opacity="0.9"/>
 <!-- upper bowl -->
 <path d="M338,318 C355,430 450,505 548,545 L868,545 C965,505 1042,430 1055,332 Z" fill="#d4e2e9"/>
 <path d="M375,345 C395,440 470,492 562,528 L855,528 C940,492 1010,440 1026,350 Z" fill="#d3e294"/>
 <path d="M440,430 C480,480 530,505 590,522 L830,522 C900,500 960,460 990,400 C900,470 780,500 690,500 C590,500 500,470 440,430 Z" fill="#c6d878" opacity="0.8"/>
 <!-- surface -->
 <ellipse cx="697" cy="325" rx="360" ry="76" transform="rotate(1.6 697 325)" fill="#d4e2e9"/>
 <ellipse cx="699" cy="338" rx="326" ry="56" transform="rotate(1.6 699 338)" fill="#e0ebac"/>
 <ellipse cx="697" cy="322" rx="352" ry="68" transform="rotate(1.6 697 322)" fill="none" stroke="#eef4f7" stroke-width="13"/>
 <ellipse cx="697" cy="322" rx="352" ry="68" transform="rotate(1.6 697 322)" fill="none" stroke="#f6f9fb" stroke-width="24" stroke-dasharray="0.1 25" stroke-linecap="round"/>
 <!-- lime wheel -->
 <circle cx="1066" cy="310" r="173" fill="#85b63b"/>
 <circle cx="1066" cy="310" r="152" fill="#e3eea0"/>
 <circle cx="1066" cy="310" r="142" fill="#cbe05c"/>
 <g stroke="#eaf3b4" stroke-width="8">
  <path d="M1066,310 L1066,168 M1066,310 L1066,452 M1066,310 L943,239 M1066,310 L1189,381 M1066,310 L943,381 M1066,310 L1189,239"/>
 </g>
 <circle cx="1066" cy="310" r="12" fill="#eaf3b4"/>
 <!-- rim front over lime -->
 <path d="M890,372 C960,362 1020,345 1056,318" fill="none" stroke="#f6f9fb" stroke-width="24" stroke-dasharray="0.1 25" stroke-linecap="round"/>
 <path d="M925,385 L975,430" stroke="#85b63b" stroke-width="9" stroke-linecap="round"/>
</g>
</g>
<!-- Eggnog -->
<g>
<circle cx="1696.5" cy="870" r="139.4" fill="#85272e"/>
<g transform="translate(1536 710) scale(0.22776)">
 <clipPath id="c5z"><circle cx="705" cy="702.5" r="612"/></clipPath>
 <g clip-path="url(#c5z)">
  <path d="M1030,330 L1230,560 L2200,1530 L1700,2300 L440,1150 L980,1100 Z" fill="#6c1c23"/>
 </g>
 <!-- handle -->
 <path d="M1015,492 C1170,480 1235,570 1222,690 C1205,830 1100,900 985,922" fill="none" stroke="#c4d1d6" stroke-width="52"/>
 <path d="M1015,478 C1180,462 1250,565 1236,690" fill="none" stroke="#d9e3e7" stroke-width="14" opacity="0.8"/>
 <!-- mug body -->
 <path d="M315,365 L398,1085 Q408,1175 500,1180 L870,1180 Q958,1175 966,1085 L1031,365 Z" fill="#c6d3d8"/>
 <ellipse cx="673" cy="362" rx="358" ry="113" fill="#d3dde1"/>
 <ellipse cx="673" cy="362" rx="358" ry="113" fill="none" stroke="#bccace" stroke-width="6"/>
 <!-- liquid -->
 <path d="M358,470 L428,1068 Q434,1122 500,1124 L872,1124 Q928,1122 934,1068 L990,470 Q673,560 358,470 Z" fill="#f4dfb1"/>
 <path d="M354,430 L368,560 Q673,640 978,560 L992,430 Q673,540 354,430 Z" fill="#faebc9"/>
 <path d="M800,600 C830,800 800,1000 640,1110 L872,1118 Q925,1116 930,1068 L975,580 Q890,600 800,600 Z" fill="#f0d49e" opacity="0.8"/>
 <path d="M385,520 L440,1060 Q445,1100 480,1105 L470,600 Q468,550 470,530 Z" fill="#f9ebc6" opacity="0.8"/>
 <!-- foam top -->
 <ellipse cx="673" cy="385" rx="312" ry="90" fill="#fbf1d6"/>
 <path d="M365,390 C420,330 560,300 640,305 C670,280 700,285 720,300 C820,300 940,330 985,395 C900,320 450,320 365,390 Z" fill="#fdf6e2"/>
 <g fill="#a5643c">
  <circle cx="575" cy="322" r="4"/><circle cx="612" cy="352" r="5"/><circle cx="640" cy="330" r="4"/><circle cx="662" cy="372" r="5"/>
  <circle cx="690" cy="345" r="5"/><circle cx="715" cy="325" r="4"/><circle cx="738" cy="362" r="5"/><circle cx="760" cy="338" r="4"/>
  <circle cx="655" cy="405" r="5"/><circle cx="700" cy="400" r="4"/><circle cx="545" cy="405" r="4"/><circle cx="585" cy="385" r="4"/>
  <circle cx="800" cy="345" r="4"/><circle cx="822" cy="378" r="4"/><circle cx="785" cy="412" r="4"/><circle cx="850" cy="405" r="3"/>
  <circle cx="500" cy="360" r="3"/><circle cx="520" cy="420" r="3"/><circle cx="625" cy="430" r="4"/><circle cx="742" cy="425" r="3"/>
  <circle cx="885" cy="390" r="3"/><circle cx="930" cy="410" r="3"/><circle cx="475" cy="420" r="3"/><circle cx="680" cy="315" r="3"/>
  <circle cx="745" cy="560" r="4"/>
 </g>
 <!-- rim front -->
 <path d="M317,380 C380,520 960,520 1029,380" fill="none" stroke="#c9d6da" stroke-width="10" opacity="0.9"/>
 <path d="M440,1095 Q445,1140 500,1142 L850,1142" fill="none" stroke="#dbe5e9" stroke-width="14" stroke-linecap="round"/>
</g>
</g>
<!-- Mulled wine -->
<g>
<circle cx="1696.5" cy="1218.3" r="139.4" fill="#85272e"/>
<g transform="translate(1536 1060) scale(0.22776)">
 <clipPath id="c6z"><circle cx="705" cy="695" r="612"/></clipPath>
 <g clip-path="url(#c6z)">
  <path d="M1000,250 L1020,450 L1200,640 L2200,1640 L1700,2300 L450,1170 L960,1100 Z" fill="#6c1c23"/>
 </g>
 <!-- steam -->
 <g fill="none" stroke="#f3d4d6" stroke-width="17" stroke-linecap="round" opacity="0.45">
  <path d="M590,175 C540,240 650,270 600,350"/>
  <path d="M680,110 C600,200 760,240 690,345"/>
  <path d="M785,180 C740,240 830,265 790,320"/>
 </g>
 <!-- handle -->
 <path d="M1005,580 C1150,565 1212,650 1195,765 C1175,880 1080,945 975,968" fill="none" stroke="#dbe5e9" stroke-width="50"/>
 <!-- mug -->
 <path d="M362,470 L418,1100 Q426,1188 510,1190 L857,1190 Q940,1188 947,1100 L1018,470 Z" fill="#dbe5e9"/>
 <ellipse cx="690" cy="472" rx="328" ry="97" fill="#e7eef1"/>
 <ellipse cx="690" cy="482" rx="300" ry="78" fill="#cfdbe0"/>
 <!-- wine surface & body -->
 <path d="M400,555 L450,1078 Q455,1122 510,1124 L860,1124 Q915,1122 920,1078 L976,555 Z" fill="#6d1a24"/>
 <ellipse cx="688" cy="548" rx="288" ry="66" fill="#a8323f"/>
 <path d="M400,555 Q688,680 976,555 L970,615 Q688,730 406,615 Z" fill="#8e2732"/>
 <!-- back orange slice (in wine) -->
 <path d="M872,660 A150,150 0 0 1 762,940 Z" fill="#b9581f"/>
 <path d="M868,682 A130,130 0 0 1 774,922 Z" fill="#d8722a"/>
 <path d="M820,800 L930,760 M820,800 L925,860 M820,800 L860,920" stroke="#e89a58" stroke-width="5" fill="none" opacity="0.7"/>
 <!-- cinnamon inside -->
 <path d="M770,600 L860,610 L760,960 L690,930 Z" fill="#7c3a22"/>
 <path d="M830,1080 L880,900 L910,910 L870,1090 Z" fill="#7c3a22" opacity="0.8"/>
 <!-- top orange slice -->
 <path d="M448,575 C440,500 520,452 600,455 C680,458 730,500 735,548 C700,590 640,600 590,598 C530,596 470,590 448,575 Z" fill="#f7c268"/>
 <path d="M462,570 C460,510 530,470 600,472 C665,474 712,508 718,545 C690,578 640,586 590,584 C540,582 490,580 462,570 Z" fill="#f29a2c"/>
 <path d="M590,584 L540,480 M590,584 L610,472 M590,584 L680,495 M590,584 L480,520" stroke="#f9cf86" stroke-width="6" fill="none"/>
 <!-- cinnamon stick above -->
 <path d="M900,250 C930,230 990,245 1003,285 L862,606 L772,596 Z" fill="#a55a2c"/>
 <path d="M900,250 C915,262 930,262 945,258 L815,600 L772,596 Z" fill="#bf7a44"/>
 <path d="M945,258 C960,280 985,290 1003,285 C995,260 970,245 945,258 Z" fill="#7e4020"/>
 <path d="M948,262 L840,604" stroke="#7e4020" stroke-width="7"/>
 <!-- front orange slice -->
 <g transform="translate(655 925) rotate(43)">
  <path d="M-195,0 A195,195 0 0 0 195,0 Z" fill="#f2b04c"/>
  <path d="M-172,0 A172,172 0 0 0 172,0 Z" fill="#f7cf8a"/>
  <path d="M-160,4 A160,160 0 0 0 160,4 Z" fill="#f39a2b"/>
  <path d="M0,4 L-125,95 M0,4 L-55,150 M0,4 L55,150 M0,4 L125,95" stroke="#f9cf86" stroke-width="7" fill="none"/>
 </g>
 <!-- glass highlights -->
 <path d="M440,590 L520,610 L545,1110 L490,1105 Z" fill="#f4dfe2" opacity="0.22"/>
 <path d="M366,490 C420,600 960,600 1014,490" fill="none" stroke="#eef3f5" stroke-width="9" opacity="0.85"/>
 <path d="M455,1140 Q460,1160 510,1162 L850,1162" fill="none" stroke="#eef3f5" stroke-width="12" stroke-linecap="round"/>
</g>
</g>
<text y="1460.5" font-size="43.5" font-weight="400" fill="#161616"><tspan x="339.0" textLength="60.9" lengthAdjust="spacingAndGlyphs">Fat</tspan> <tspan x="413.5" textLength="154.6" lengthAdjust="spacingAndGlyphs">burning</tspan> <tspan x="582.5" textLength="25.4" lengthAdjust="spacingAndGlyphs">is</tspan> <tspan x="620.7" textLength="142.4" lengthAdjust="spacingAndGlyphs">paused</tspan> <tspan x="777.2" textLength="102.0" lengthAdjust="spacingAndGlyphs">while</tspan> <tspan x="892.5" textLength="62.6" lengthAdjust="spacingAndGlyphs">the</tspan> <tspan x="968.1" textLength="80.6" lengthAdjust="spacingAndGlyphs">liver</tspan> <tspan x="1060.2" textLength="189.7" lengthAdjust="spacingAndGlyphs">prioritizes</tspan> <tspan x="1262.2" textLength="137.5" lengthAdjust="spacingAndGlyphs">alcohol</tspan> <tspan x="1413.7" textLength="246.2" lengthAdjust="spacingAndGlyphs">metabolism.</tspan> <tspan x="1669.3" textLength="130.4" lengthAdjust="spacingAndGlyphs">Sugary</tspan> <tspan x="1815.5" textLength="121.2" lengthAdjust="spacingAndGlyphs">drinks</tspan> <tspan x="1947.5" textLength="134.8" lengthAdjust="spacingAndGlyphs">extend</tspan> <tspan x="2093.5" textLength="72.8" lengthAdjust="spacingAndGlyphs">this</tspan> <tspan x="2178.0" textLength="114.8" lengthAdjust="spacingAndGlyphs">pause</tspan> <tspan x="2304.9" textLength="246.6" lengthAdjust="spacingAndGlyphs">significantly.</tspan></text>
</svg>
</body>
</html>
